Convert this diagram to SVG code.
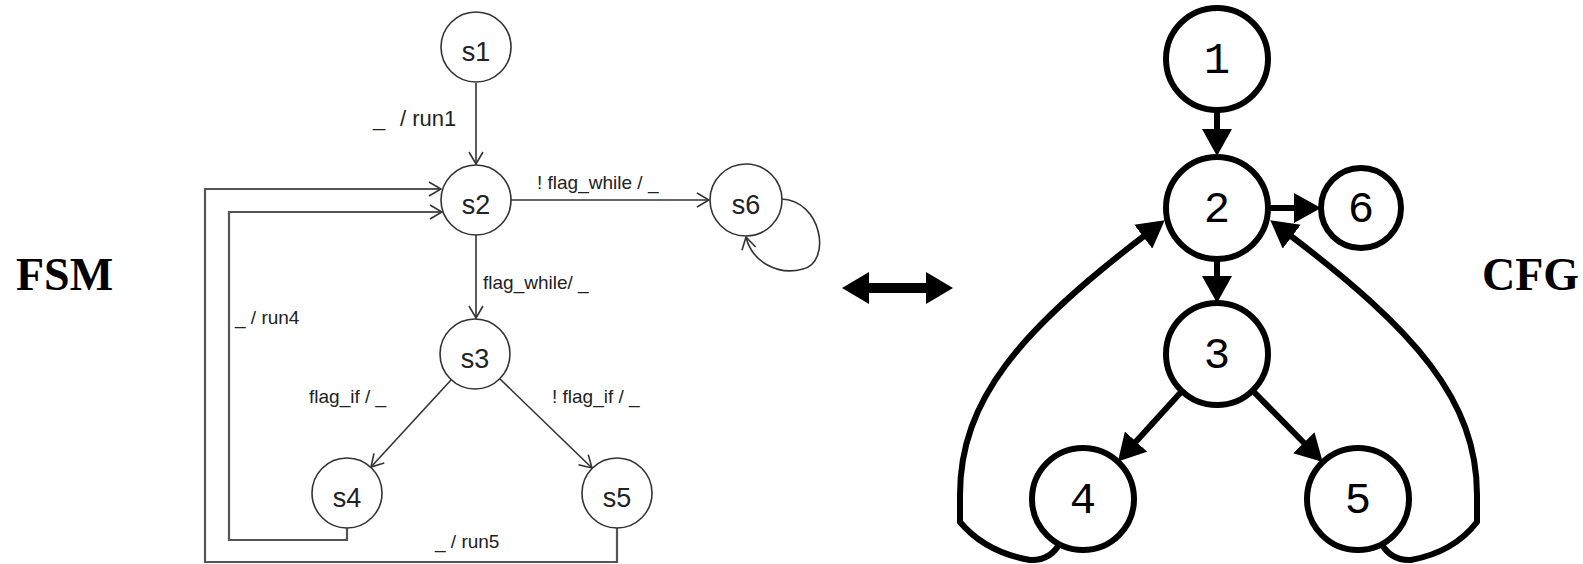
<svg xmlns="http://www.w3.org/2000/svg" width="1583" height="564" viewBox="0 0 1583 564">
  <style>
    .st { fill: #fff; stroke: #333; stroke-width: 1.6; }
    .sl { font-family: "Liberation Sans", Arial, sans-serif; font-size: 27px; fill: #222; text-anchor: middle; }
    .el { font-family: "Liberation Sans", Arial, sans-serif; font-size: 19px; fill: #222; }
    .fe { fill: none; stroke: #333; stroke-width: 1.6; }
    .fb { fill: none; stroke: #555; stroke-width: 2.2; }
    .cn { fill: #fff; stroke: #000; stroke-width: 6; }
    .cl { font-family: "Liberation Mono", "Courier New", monospace; font-size: 44px; fill: #000; text-anchor: middle; }
    .ce { fill: none; stroke: #000; stroke-width: 6; }
    .title { font-family: "Liberation Serif", "Times New Roman", serif; font-size: 46px; font-weight: bold; fill: #000; }
  </style>
  <defs>
    <marker id="open" markerUnits="userSpaceOnUse" viewBox="0 0 14 16" markerWidth="14" markerHeight="16" refX="13" refY="8" orient="auto">
      <path d="M1,1 L13,8 L1,15" fill="none" stroke="#333" stroke-width="1.6"/>
    </marker>
    <marker id="solid" markerUnits="userSpaceOnUse" viewBox="0 0 27 30" markerWidth="27" markerHeight="30" refX="6" refY="15" orient="auto">
      <path d="M0,0 L27,15 L0,30 Z" fill="#000"/>
    </marker>
  </defs>

  <!-- panel titles -->
  <text class="title" x="16" y="290">FSM</text>
  <text class="title" x="1482" y="290">CFG</text>

  <!-- double-headed equivalence arrow -->
  <polygon points="842,288 869,272 869,283 926,283 926,272 953,288 926,304 926,293 869,293 869,304" fill="#000"/>

  <!-- state machine transitions -->
  <g id="fsm-edges">
    <path class="fe" d="M476,83 L476,164" marker-end="url(#open)"/>
    <path class="fe" d="M511,200 L709,200" marker-end="url(#open)"/>
    <path class="fe" d="M476,235 L476,318" marker-end="url(#open)"/>
    <path class="fe" d="M451,380 L371,467" marker-end="url(#open)"/>
    <path class="fe" d="M500,379 L592,468" marker-end="url(#open)"/>
    <path class="fe" d="M781,199 C822,200 832,262 803,269 C778,276 752,262 746,237" marker-end="url(#open)"/>
    <path class="fb" d="M617,528 L617,562 L205,562 L205,189 L441,189" marker-end="url(#open)"/>
    <path class="fb" d="M347,528 L347,540 L229,540 L229,212 L442,212" marker-end="url(#open)"/>
    <text class="el" x="373" y="126" style="font-size:22px">_</text>
    <text class="el" x="400" y="126" style="font-size:22px">/ run1</text>
    <text class="el" x="537" y="189">! flag_while / _</text>
    <text class="el" x="483" y="289">flag_while/ _</text>
    <text class="el" x="235" y="324">_ / run4</text>
    <text class="el" x="309" y="403">flag_if / _</text>
    <text class="el" x="552" y="403">! flag_if / _</text>
    <text class="el" x="435" y="548">_ / run5</text>
  </g>

  <g id="s1"><circle class="st" cx="476" cy="47" r="35"/><text class="sl" x="476" y="61">s1</text></g>
  <g id="s2"><circle class="st" cx="476" cy="200" r="35"/><text class="sl" x="476" y="214">s2</text></g>
  <g id="s3"><circle class="st" cx="475" cy="354" r="35"/><text class="sl" x="475" y="368">s3</text></g>
  <g id="s4"><circle class="st" cx="347" cy="493" r="35"/><text class="sl" x="347" y="507">s4</text></g>
  <g id="s5"><circle class="st" cx="617" cy="493" r="35"/><text class="sl" x="617" y="507">s5</text></g>
  <g id="s6"><circle class="st" cx="746" cy="200" r="36"/><text class="sl" x="746" y="214">s6</text></g>

  <!-- control flow graph edges -->
  <g id="cfg-edges">
    <path class="ce" d="M1217,110 L1217,135" marker-end="url(#solid)"/>
    <path class="ce" d="M1217,259 L1217,282" marker-end="url(#solid)"/>
    <path class="ce" d="M1268,208 L1300,208" marker-end="url(#solid)"/>
    <path class="ce" d="M1182,391 L1132,446" marker-end="url(#solid)"/>
    <path class="ce" d="M1253,391 L1308,447" marker-end="url(#solid)"/>
    <path class="ce" d="M1060,543 Q1050,561 1030,560 Q985,552 960,522 L960,495 C960,400 1020,330 1148,233" marker-end="url(#solid)"/>
    <path class="ce" d="M1381,543 Q1391,561 1411,560 Q1454,552 1477,522 L1477,495 C1477,400 1415,330 1287,233" marker-end="url(#solid)"/>
  </g>

  <g id="n1"><circle class="cn" cx="1217" cy="59" r="51"/><text class="cl" x="1217" y="73">1</text></g>
  <g id="n2"><circle class="cn" cx="1217" cy="208" r="51"/><text class="cl" x="1217" y="222">2</text></g>
  <g id="n6"><circle class="cn" cx="1361" cy="208" r="40"/><text class="cl" x="1361" y="222">6</text></g>
  <g id="n3"><circle class="cn" cx="1217" cy="354" r="51"/><text class="cl" x="1217" y="368">3</text></g>
  <g id="n4"><circle class="cn" cx="1083" cy="499" r="51"/><text class="cl" x="1083" y="513">4</text></g>
  <g id="n5"><circle class="cn" cx="1358" cy="499" r="51"/><text class="cl" x="1358" y="513">5</text></g>
</svg>
